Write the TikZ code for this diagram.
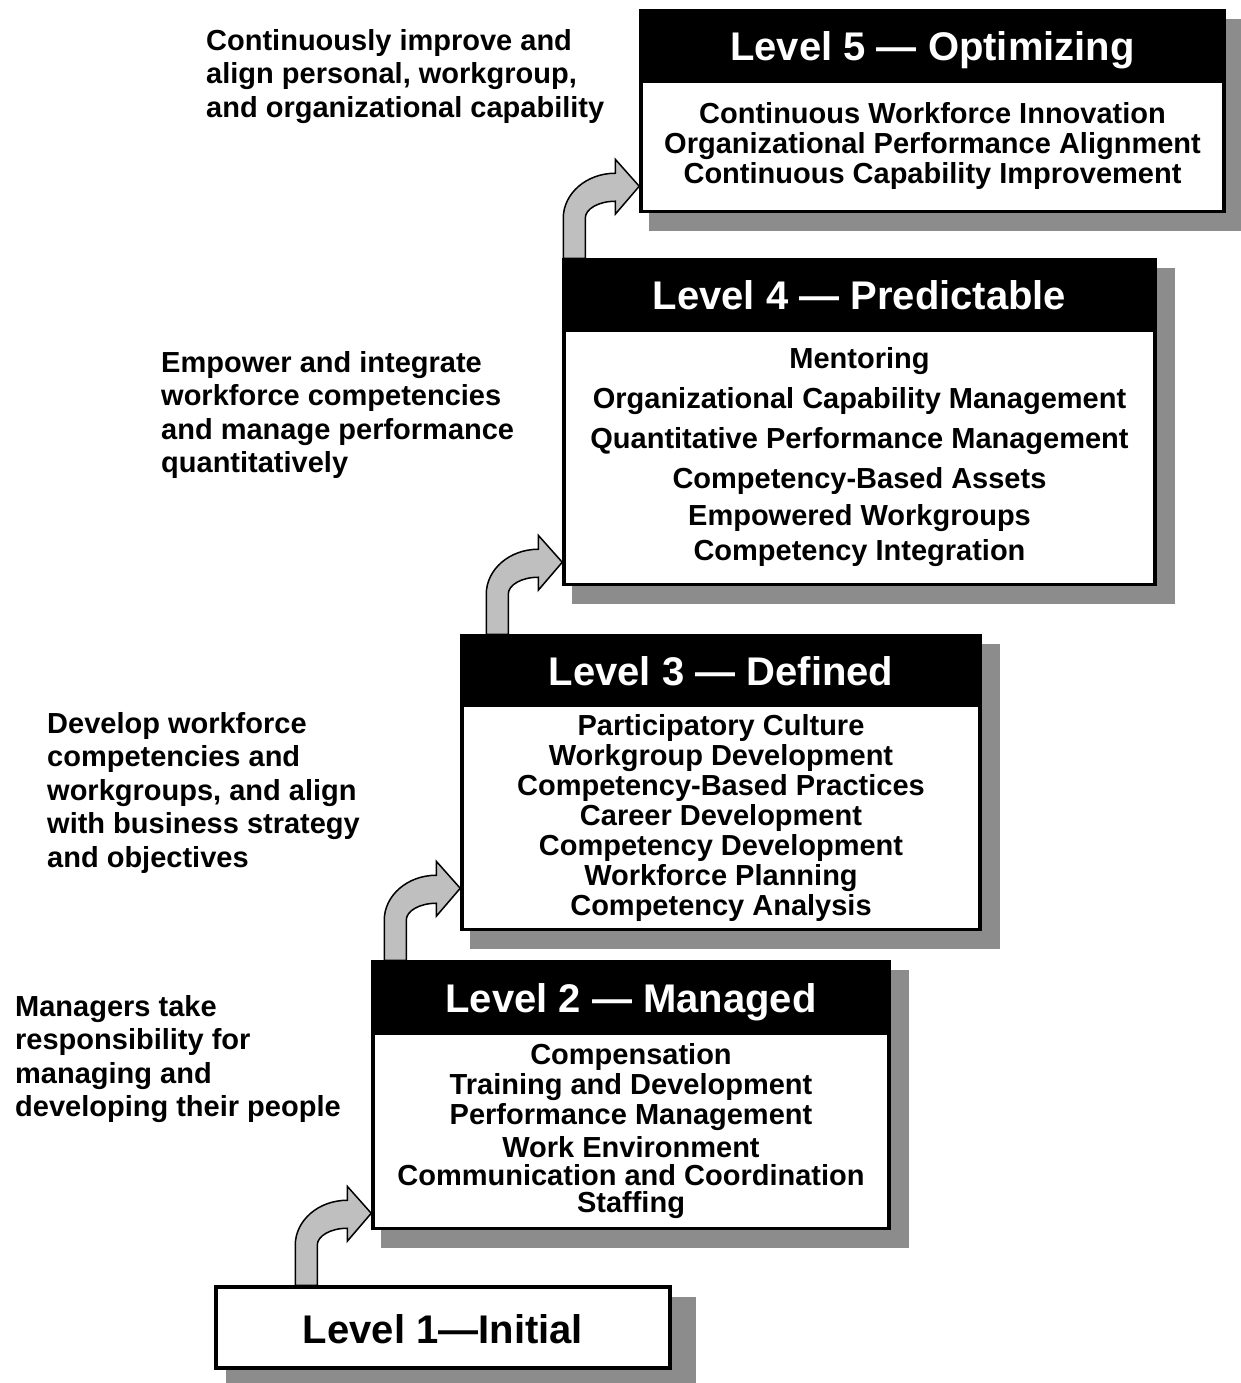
\documentclass[tikz,border=0pt]{standalone}
\usepackage{fontspec}
\setmainfont{Liberation Sans}
\usetikzlibrary{backgrounds}

\tikzset{
  lvltitle/.style={draw=black, fill=black, text=white, line width=3.5pt, inner sep=0pt,
    text height=32pt, text depth=0pt, font=\fontsize{40}{44}\selectfont\bfseries},
  lvlbody/.style={draw=black, fill=white, line width=3.5pt, inner sep=0pt, align=center,
    anchor=north, font=\fontsize{29}{30}\selectfont\bfseries},
  lvlbase/.style={lvltitle, fill=white, text=black},
  goaltext/.style={align=left, anchor=north west, inner sep=0pt,
    font=\fontsize{29}{33.5}\selectfont\bfseries},
  lvlshadow/.style={fill=black!45},
  steparrow/.pic={
    \draw[fill=black!25, line width=1.5pt]
      (0,0) -- (0,-40) arc[start angle=180, end angle=270, x radius=52, y radius=45]
      -- (52,-99) -- (76,-72) -- (52,-44) -- (52,-57)
      arc[start angle=270, end angle=180, x radius=30, y radius=17] -- (22,0) -- cycle;
  }
}

\begin{document}
\begin{tikzpicture}[x=1pt, y=-1pt]
	\useasboundingbox (0,0) rectangle (1241,1383);

	% Level 5
	\node[lvltitle, minimum width=583pt, minimum height=67pt] (l5title) at (932.5,44.5) {Level 5 — Optimizing};
	\node[lvlbody, minimum width=583pt, minimum height=130pt] (l5body) at (l5title.south)
	  {Continuous Workforce Innovation\\ Organizational Performance Alignment\\ Continuous Capability Improvement};

	% Level 4
	\node[lvltitle, minimum width=591pt, minimum height=67pt] (l4title) at (859.5,293.5) {Level 4 — Predictable};
	\node[lvlbody, minimum width=591pt, minimum height=254pt] (l4body) at (l4title.south)
	  {Mentoring\\[10pt] Organizational Capability Management\\[10pt] Quantitative Performance Management\\[10pt]
	   Competency-Based Assets\\[7pt] Empowered Workgroups\\[5pt] Competency Integration};

	% Level 3
	\node[lvltitle, minimum width=518pt, minimum height=66pt] (l3title) at (721,669) {Level 3 — Defined};
	\node[lvlbody, minimum width=518pt, minimum height=224pt] (l3body) at (l3title.south)
	  {Participatory Culture\\ Workgroup Development\\ Competency-Based Practices\\ Career Development\\
	   Competency Development\\ Workforce Planning\\ Competency Analysis};

	% Level 2
	\node[lvltitle, minimum width=516pt, minimum height=68pt] (l2title) at (631,996) {Level 2 — Managed};
	\node[lvlbody, minimum width=516pt, minimum height=195pt] (l2body) at (l2title.south)
	  {Compensation\\ Training and Development\\ Performance Management\\[3pt] Work Environment\\[-2pt]
	   Communication and Coordination\\[-3pt] Staffing};

	% Level 1
	\node[lvlbase, minimum width=454pt, minimum height=81pt] (l1box) at (443,1327.5) {Level 1—Initial};

	% goals beside each level
	\node[goaltext] (goal5) at (206,29) {Continuously improve and\\ align personal, workgroup,\\ and organizational capability};
	\node[goaltext] (goal4) at (161,351) {Empower and integrate\\ workforce competencies\\ and manage performance\\ quantitatively};
	\node[goaltext] (goal3) at (47,712) {Develop workforce\\ competencies and\\ workgroups, and align\\ with business strategy\\ and objectives};
	\node[goaltext] (goal2) at (15,995) {Managers take\\ responsibility for\\ managing and\\ developing their people};

	\begin{scope}[on background layer]
	% shadows
	\fill[lvlshadow] ([shift={(10,10)}]l5title.north west) rectangle ([shift={(18,18)}]l5body.south east);
	\fill[lvlshadow] ([shift={(10,10)}]l4title.north west) rectangle ([shift={(18,18)}]l4body.south east);
	\fill[lvlshadow] ([shift={(10,10)}]l3title.north west) rectangle ([shift={(18,18)}]l3body.south east);
	\fill[lvlshadow] ([shift={(10,10)}]l2title.north west) rectangle ([shift={(18,18)}]l2body.south east);
	\fill[lvlshadow] ([shift={(12,12)}]l1box.north west) rectangle ([shift={(24,24)}]l1box.south east);
	% step arrows
	\path (l1box.north -| l2title.west) ++(-76,0) pic {steparrow};
	\path (l2title.north -| l3title.west) ++(-76,0) pic {steparrow};
	\path (l3title.north -| l4title.west) ++(-76,0) pic {steparrow};
	\path (l4title.north -| l5title.west) ++(-76,0) pic {steparrow};
	\end{scope}

\end{tikzpicture}
\end{document}
